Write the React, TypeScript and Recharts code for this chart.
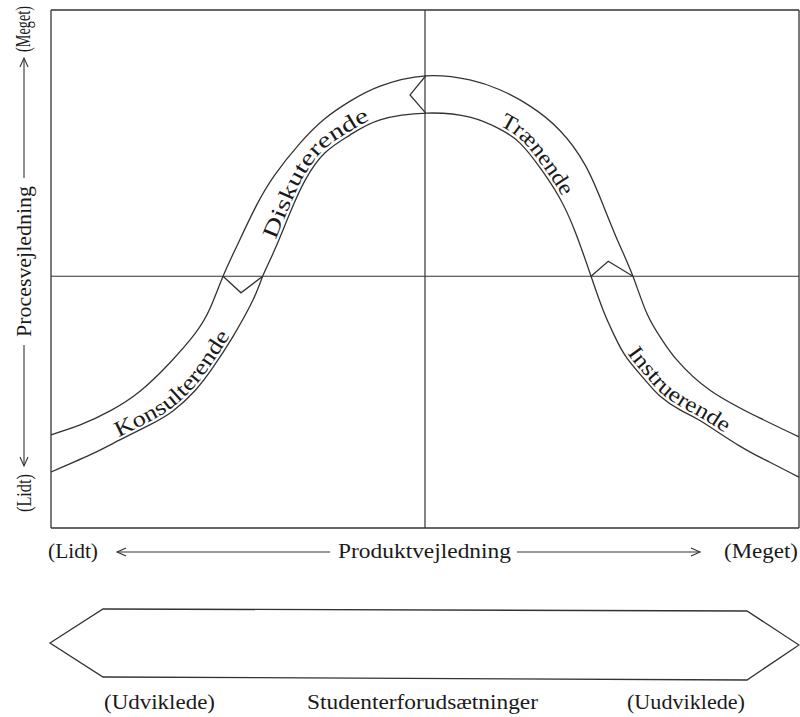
import React from "react";
import { ComposedChart, Line, XAxis, YAxis, ReferenceLine, Customized } from "recharts";

// outer and inner edge of the guidance band (x: product guidance, y: process guidance, 0-100)
const outerX = [0, 3.9, 7.9, 11.9, 15.9, 19.3, 21.3, 23.0, 24.9, 27.3, 29.9, 33.3, 36.6, 40.0, 44.0, 50.1, 56.0, 60.0, 64.0, 68.0, 71.4, 73.8, 75.9, 77.8, 79.7, 81.7, 83.7, 88.1, 94.8, 100];
const outerY = [18.0, 19.9, 22.6, 26.4, 31.9, 37.6, 42.5, 48.6, 54.6, 61.8, 68.1, 74.3, 79.0, 82.4, 85.3, 87.3, 86.5, 84.6, 81.5, 76.8, 70.1, 62.4, 55.0, 48.6, 41.3, 36.3, 32.4, 26.6, 21.2, 17.6];
const innerX = [0, 5.2, 9.2, 13.2, 16.3, 19.3, 21.7, 24.3, 27.0, 28.3, 29.9, 32.0, 34.0, 36.6, 40.0, 44.0, 50.3, 56.0, 60.0, 62.7, 65.4, 68.0, 70.1, 72.2, 73.8, 75.4, 77.0, 79.4, 81.4, 84.1, 86.8, 92.1, 96.1, 100];
const innerY = [10.8, 14.1, 17.0, 19.9, 22.6, 26.6, 31.1, 36.9, 44.0, 48.6, 53.7, 61.0, 67.2, 72.4, 75.9, 78.8, 80.1, 79.3, 77.0, 74.3, 69.5, 63.7, 57.1, 48.6, 42.1, 36.9, 32.8, 28.6, 25.5, 22.8, 20.7, 15.8, 12.7, 9.8];

// zigzag separators between the four styles
const zigTopX = [50.1, 48.0, 50.1];
const zigTopY = [87.3, 83.6, 80.1];
const zigLeftX = [23.0, 25.4, 28.3];
const zigLeftY = [48.6, 45.4, 48.6];
const zigRightX = [72.2, 74.5, 77.8];
const zigRightY = [48.6, 51.5, 48.6];

const midX = 50;
const midY = 48.6;

const styleNames = ["Konsulterende", "Diskuterende", "Trænende", "Instruerende"];
const styleFrom = [8.9, 29.9, 59.8, 76.9];
const styleTo = [23.8, 42.4, 68.3, 89.6];

const PLOT = { left: 51, top: 10, width: 748, height: 518 };
const INK = "#333";
const FONT = "'Liberation Serif', 'Times New Roman', serif";

const pts = (xs: number[], ys: number[]) => xs.map((x, i) => ({ x, y: ys[i] }));
const sx = (u: number) => PLOT.left + (u / 100) * PLOT.width;
const sy = (v: number) => PLOT.top + (1 - v / 100) * PLOT.height;

// smooth the inner edge and lift it a little, for the curved labels
function labelPath() {
  const p = innerX.map((x, i) => [sx(x), sy(innerY[i])]);
  const dense: number[][] = [];
  for (let i = 0; i < p.length - 1; i++) {
    const p0 = p[Math.max(i - 1, 0)], p1 = p[i], p2 = p[i + 1], p3 = p[Math.min(i + 2, p.length - 1)];
    for (let k = 0; k < 12; k++) {
      const t = k / 12, t2 = t * t, t3 = t2 * t;
      const f = (a: number, b: number, c: number, d: number) =>
        0.5 * (2 * b + (-a + c) * t + (2 * a - 5 * b + 4 * c - d) * t2 + (-a + 3 * b - 3 * c + d) * t3);
      dense.push([f(p0[0], p1[0], p2[0], p3[0]), f(p0[1], p1[1], p2[1], p3[1])]);
    }
  }
  dense.push(p[p.length - 1]);
  const lifted = dense.map((q, i) => {
    const a = dense[Math.max(i - 1, 0)], b = dense[Math.min(i + 1, dense.length - 1)];
    const dx = b[0] - a[0], dy = b[1] - a[1], n = Math.hypot(dx, dy) || 1;
    return [q[0] + (dy / n) * 3, q[1] - (dx / n) * 3];
  });
  const len = [0];
  for (let i = 1; i < lifted.length; i++)
    len.push(len[i - 1] + Math.hypot(lifted[i][0] - lifted[i - 1][0], lifted[i][1] - lifted[i - 1][1]));
  const at = (u: number) => {
    const X = sx(u);
    for (let i = 1; i < lifted.length; i++) if (lifted[i][0] >= X) return len[i];
    return len[len.length - 1];
  };
  const d = "M" + lifted.map((q) => q[0].toFixed(2) + "," + q[1].toFixed(2)).join("L");
  return { d, at };
}

function Arrow({ x1, x2, y, head }: { x1: number; x2: number; y: number; head: "left" | "right" }) {
  const tip = head === "left" ? x1 : x2;
  const s = head === "left" ? 1 : -1;
  return (
    <g stroke={INK} strokeWidth={1.1} fill="none">
      <line x1={x1} y1={y} x2={x2} y2={y} />
      <polyline points={`${tip + s * 9},${y - 4} ${tip},${y} ${tip + s * 9},${y + 4}`} />
    </g>
  );
}

function VArrow({ x, y1, y2, head }: { x: number; y1: number; y2: number; head: "up" | "down" }) {
  const tip = head === "up" ? y1 : y2;
  const s = head === "up" ? 1 : -1;
  return (
    <g stroke={INK} strokeWidth={1.1} fill="none">
      <line x1={x} y1={y1} x2={x} y2={y2} />
      <polyline points={`${x - 4},${tip + s * 9} ${x},${tip} ${x + 4},${tip + s * 9}`} />
    </g>
  );
}

function HText({ x1, x2, y, children }: { x1: number; x2: number; y: number; children: string }) {
  return (
    <text x={x1} y={y} textLength={x2 - x1} lengthAdjust="spacingAndGlyphs" dominantBaseline="central"
      fontFamily={FONT} fontSize={20} fill="#1a1a1a">
      {children}
    </text>
  );
}

// rotated caption; em = advance width of the string in Times em units
function VText({ y1, y2, x, em, children }: { y1: number; y2: number; x: number; em: number; children: string }) {
  const size = 20;
  const k = (y2 - y1) / (em * size);
  return (
    <text transform={`translate(${x},${y2}) rotate(-90) scale(${k.toFixed(3)},1)`} x={0} y={0}
      dominantBaseline="central" fontFamily={FONT} fontSize={size} fill="#1a1a1a">
      {children}
    </text>
  );
}

function Overlay() {
  const lp = labelPath();
  const vx = 24;
  return (
    <g>
      <defs>
        <path id="bandPath" d={lp.d} />
      </defs>
      {styleNames.map((name, i) => {
        const s = lp.at(styleFrom[i]);
        const e = lp.at(styleTo[i]);
        return (
          <text key={name} fontFamily={FONT} fontSize={22} fill="#1a1a1a">
            <textPath href="#bandPath" startOffset={s} textLength={e - s} lengthAdjust="spacingAndGlyphs">
              {name}
            </textPath>
          </text>
        );
      })}

      {/* vertical axis caption */}
      <VText x={vx} y1={474} y2={512} em={2.333}>(Lidt)</VText>
      <VArrow x={vx} y1={345} y2={466} head="down" />
      <VText x={vx} y1={186} y2={337} em={6.888}>Procesvejledning</VText>
      <VArrow x={vx} y1={58} y2={178} head="up" />
      <VText x={vx} y1={6} y2={52} em={3.221}>(Meget)</VText>

      {/* horizontal axis caption */}
      <HText x1={48} x2={98} y={551}>(Lidt)</HText>
      <Arrow x1={117} x2={330} y={552} head="left" />
      <HText x1={338} x2={511} y={551}>Produktvejledning</HText>
      <Arrow x1={517} x2={700} y={552} head="right" />
      <HText x1={724} x2={798} y={551}>(Meget)</HText>

      {/* student prerequisites bar */}
      <polygon points="50,643 103,609 747,611 799,645 747,680 103,677" fill="none" stroke={INK} strokeWidth={1.3} />
      <HText x1={104} x2={215} y={702}>(Udviklede)</HText>
      <HText x1={307} x2={538} y={702}>Studenterforudsætninger</HText>
      <HText x1={627} x2={745} y={702}>(Uudviklede)</HText>
    </g>
  );
}

export default function App() {
  const lineProps = { stroke: INK, strokeWidth: 1.3, dot: false, isAnimationActive: false, activeDot: false } as const;
  return (
    <div style={{ position: "absolute", left: 0, top: 0, width: 800, height: 717, background: "#fff", overflow: "hidden" }}>
      <ComposedChart width={800} height={717} margin={{ top: PLOT.top, right: 800 - PLOT.left - PLOT.width, bottom: 717 - PLOT.top - PLOT.height, left: PLOT.left }}>
        <XAxis type="number" dataKey="x" domain={[0, 100]} hide />
        <YAxis type="number" dataKey="y" domain={[0, 100]} hide />
        <ReferenceLine x={0} stroke={INK} strokeWidth={1.3} />
        <ReferenceLine x={100} stroke={INK} strokeWidth={1.3} />
        <ReferenceLine y={0} stroke={INK} strokeWidth={1.3} />
        <ReferenceLine y={100} stroke={INK} strokeWidth={1.3} />
        <ReferenceLine x={midX} stroke={INK} strokeWidth={1.2} />
        <ReferenceLine y={midY} stroke={INK} strokeWidth={1.2} />
        <Line data={pts(outerX, outerY)} dataKey="y" type="natural" {...lineProps} />
        <Line data={pts(innerX, innerY)} dataKey="y" type="natural" {...lineProps} />
        <Line data={pts(zigTopX, zigTopY)} dataKey="y" type="linear" {...lineProps} />
        <Line data={pts(zigLeftX, zigLeftY)} dataKey="y" type="linear" {...lineProps} />
        <Line data={pts(zigRightX, zigRightY)} dataKey="y" type="linear" {...lineProps} />
        <Customized component={Overlay} />
      </ComposedChart>
    </div>
  );
}
